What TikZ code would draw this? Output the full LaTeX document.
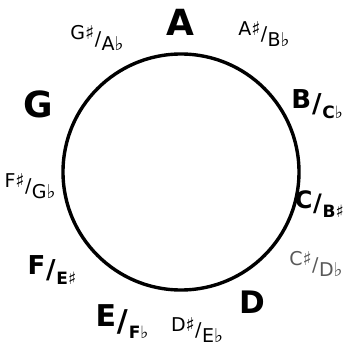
\documentclass[tikz,border=0pt]{standalone}
\usepackage{fontspec}
\setmainfont{DejaVu Sans}
\usepackage{tikz}
\usetikzlibrary{positioning}

% kleine Schrägbrüche für enharmonische Namen
\newcommand{\enh}[2]{\raisebox{.3em}{#1}\kern.02em/\kern.02em\raisebox{-.3em}{#2}}
\newcommand{\nat}[2]{#1\kern.03em\raisebox{-.15em}{/}\kern.03em\raisebox{-.4em}{\fontsize{17}{17}\selectfont #2}}

\tikzset{
  natural/.style={font=\fontsize{36}{36}\selectfont\bfseries, inner sep=0pt},
  pair/.style={font=\fontsize{26}{26}\selectfont\bfseries, inner sep=0pt},
  accidental/.style={font=\fontsize{19}{19}\selectfont, inner sep=0pt},
}

\begin{document}
\begin{tikzpicture}[x=1pt,y=-1pt]
  \useasboundingbox (0,0) rectangle (345,361);

  % Kreis
  \node[draw, circle, line width=3.4pt, minimum size=236pt, inner sep=0pt] (wheel) at (181,172) {};

  % Stammtöne
  \node[natural] (a) at (180,22) {A};
  \node[natural] (g) at (38,104) {G};
  \node[natural, font=\fontsize{31}{31}\selectfont\bfseries] (d) at (252,302) {D};

  % Stammtöne mit enharmonischem Namen
  \node[pair, anchor=east] (b) at (343,104) {\nat{B}{C♭}};
  \node[pair, anchor=east, font=\fontsize{24}{24}\selectfont\bfseries] (c) at (344,204) {\nat{C}{B♯}};
  \node[pair, font=\fontsize{30}{30}\selectfont\bfseries] (e) at (122,322) {\nat{E}{F♭}};
  \node[pair] (f) at (52,270) {\nat{F}{E♯}};

  % Vorzeichen
  \node[accidental] (ais) at (264,34) {\enh{A♯}{B♭}};
  \node[accidental] (gis) at (97,38) {\enh{G♯}{A♭}};
  \node[accidental] (fis) at (30,186) {\enh{F♯}{G♭}};
  \node[accidental, text=black!65] (cis) at (316,264) {\enh{C♯}{D♭}};
  \node[accidental] (dis) at (197,330) {\enh{D♯}{E♭}};
\end{tikzpicture}
\end{document}
